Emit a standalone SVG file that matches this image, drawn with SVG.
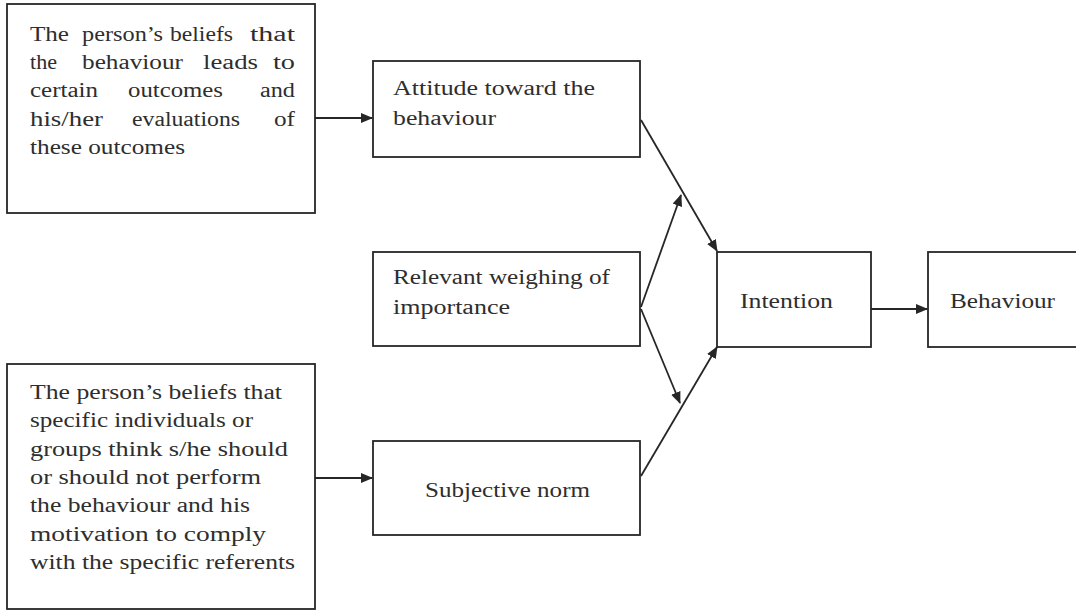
<svg xmlns="http://www.w3.org/2000/svg" width="1076" height="611" viewBox="0 0 1076 611">
  <style>
    .box { fill: #ffffff; stroke: #262626; stroke-width: 1.8; }
    .lbl { font-family: "Liberation Serif", "DejaVu Serif", serif; font-size: 20px; fill: #2e2e2e; }
    .mid { text-anchor: middle; }
    .edge { fill: none; stroke: #262626; stroke-width: 1.8; }
  </style>
  <defs>
    <marker id="arrow" viewBox="0 0 12 10" refX="11" refY="5" markerWidth="12" markerHeight="10" markerUnits="userSpaceOnUse" orient="auto">
      <path d="M0,0 L12,5 L0,10 Z" fill="#262626"/>
    </marker>
  </defs>
  <rect width="1076" height="611" fill="#ffffff"/>

  <!-- justified paragraph: each word placed on its own -->
  <g id="beliefs-outcomes">
    <rect class="box" x="7" y="4" width="308" height="209"/>
    <text class="lbl" lengthAdjust="spacingAndGlyphs">
      <tspan x="30" y="41" textLength="39" lengthAdjust="spacingAndGlyphs">The</tspan>
      <tspan x="82" y="41" textLength="81" lengthAdjust="spacingAndGlyphs">person’s</tspan>
      <tspan x="170" y="41" textLength="63" lengthAdjust="spacingAndGlyphs">beliefs</tspan>
      <tspan x="250" y="41" textLength="45" lengthAdjust="spacingAndGlyphs">that</tspan>
      <tspan x="30" y="69" textLength="27" lengthAdjust="spacingAndGlyphs">the</tspan>
      <tspan x="82" y="69" textLength="101" lengthAdjust="spacingAndGlyphs">behaviour</tspan>
      <tspan x="203" y="69" textLength="55" lengthAdjust="spacingAndGlyphs">leads</tspan>
      <tspan x="273" y="69" textLength="22" lengthAdjust="spacingAndGlyphs">to</tspan>
      <tspan x="30" y="97" textLength="68" lengthAdjust="spacingAndGlyphs">certain</tspan>
      <tspan x="128" y="97" textLength="95" lengthAdjust="spacingAndGlyphs">outcomes</tspan>
      <tspan x="260" y="97" textLength="35" lengthAdjust="spacingAndGlyphs">and</tspan>
      <tspan x="30" y="126" textLength="73" lengthAdjust="spacingAndGlyphs">his/her</tspan>
      <tspan x="132" y="126" textLength="108" lengthAdjust="spacingAndGlyphs">evaluations</tspan>
      <tspan x="274" y="126" textLength="21" lengthAdjust="spacingAndGlyphs">of</tspan>
      <tspan x="30" y="154" textLength="155" lengthAdjust="spacingAndGlyphs">these outcomes</tspan>
    </text>
  </g>

  <g id="beliefs-referents">
    <rect class="box" x="7" y="364" width="308" height="245"/>
    <text class="lbl">
      <tspan x="30" y="399" textLength="252" lengthAdjust="spacingAndGlyphs">The person’s beliefs that</tspan>
      <tspan x="30" y="427" textLength="223" lengthAdjust="spacingAndGlyphs">specific individuals or</tspan>
      <tspan x="30" y="456" textLength="258" lengthAdjust="spacingAndGlyphs">groups think s/he should</tspan>
      <tspan x="30" y="484" textLength="231" lengthAdjust="spacingAndGlyphs">or should not perform</tspan>
      <tspan x="30" y="512" textLength="220" lengthAdjust="spacingAndGlyphs">the behaviour and his</tspan>
      <tspan x="30" y="541" textLength="236" lengthAdjust="spacingAndGlyphs">motivation to comply</tspan>
      <tspan x="30" y="569" textLength="265" lengthAdjust="spacingAndGlyphs">with the specific referents</tspan>
    </text>
  </g>

  <g id="attitude">
    <rect class="box" x="373" y="61" width="267" height="96"/>
    <text class="lbl">
      <tspan x="393" y="95" textLength="202" lengthAdjust="spacingAndGlyphs">Attitude toward the</tspan>
      <tspan x="393" y="125" textLength="103" lengthAdjust="spacingAndGlyphs">behaviour</tspan>
    </text>
  </g>

  <g id="weighing">
    <rect class="box" x="373" y="252" width="267" height="94"/>
    <text class="lbl">
      <tspan x="393" y="284" textLength="217" lengthAdjust="spacingAndGlyphs">Relevant weighing of</tspan>
      <tspan x="393" y="314" textLength="117" lengthAdjust="spacingAndGlyphs">importance</tspan>
    </text>
  </g>

  <g id="subjective-norm">
    <rect class="box" x="373" y="441" width="267" height="94"/>
    <text class="lbl" x="425" y="497" textLength="165" lengthAdjust="spacingAndGlyphs">Subjective norm</text>
  </g>

  <g id="intention">
    <rect class="box" x="717" y="252" width="154" height="95"/>
    <text class="lbl" x="740" y="308" textLength="93" lengthAdjust="spacingAndGlyphs">Intention</text>
  </g>

  <g id="behaviour">
    <rect class="box" x="928" y="252" width="160" height="95"/>
    <text class="lbl" x="950" y="308" textLength="105" lengthAdjust="spacingAndGlyphs">Behaviour</text>
  </g>

  <g id="connectors">
    <line class="edge" x1="315" y1="118" x2="372" y2="118" marker-end="url(#arrow)"/>
    <line class="edge" x1="315" y1="478" x2="372" y2="478" marker-end="url(#arrow)"/>
    <line class="edge" x1="641" y1="120" x2="717" y2="251" marker-end="url(#arrow)"/>
    <line class="edge" x1="641" y1="307" x2="681" y2="195" marker-end="url(#arrow)"/>
    <line class="edge" x1="641" y1="309" x2="680" y2="403" marker-end="url(#arrow)"/>
    <line class="edge" x1="641" y1="476" x2="717" y2="347" marker-end="url(#arrow)"/>
    <line class="edge" x1="871" y1="309" x2="927" y2="309" marker-end="url(#arrow)"/>
  </g>
</svg>
